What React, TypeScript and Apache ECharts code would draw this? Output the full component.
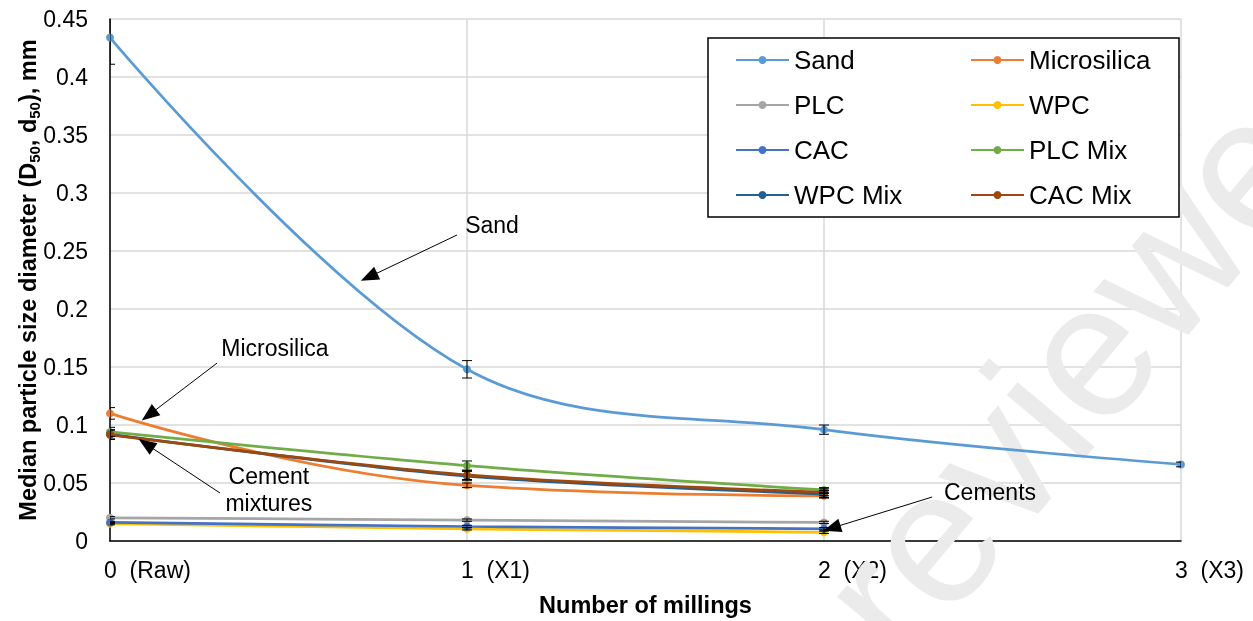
import React, { useEffect, useRef } from 'react';
import * as echarts from 'echarts';

const xLabels = ['0  (Raw)', '1  (X1)', '2  (X2)', '3  (X3)'];
const millings = [0, 1, 2, 3];

const seriesNames = ['Sand', 'Microsilica', 'PLC', 'WPC', 'CAC', 'PLC Mix', 'WPC Mix', 'CAC Mix'];
const seriesColors = ['#5B9BD5', '#ED7D31', '#A5A5A5', '#FFC000', '#4472C4', '#70AD47', '#255E91', '#9E480E'];

const sand = [0.434, 0.148, 0.096, 0.066];
const microsilica = [0.11, 0.048, 0.039];
const plc = [0.02, 0.018, 0.016];
const wpc = [0.015, 0.0105, 0.0075];
const cac = [0.016, 0.0125, 0.0105];
const plcMix = [0.094, 0.065, 0.044];
const wpcMix = [0.092, 0.056, 0.0405];
const cacMix = [0.0915, 0.057, 0.042];

const sandErr = [0.023, 0.0075, 0.004, 0.002];
const microsilicaErr = [0.005, 0.002, 0.002];
const plcErr = [0.001, 0.001, 0.001];
const wpcErr = [0.001, 0.001, 0.001];
const cacErr = [0.001, 0.001, 0.001];
const plcMixErr = [0.004, 0.004, 0.002];
const wpcMixErr = [0.004, 0.004, 0.003];
const cacMixErr = [0.004, 0.004, 0.003];

const allValues = [sand, microsilica, plc, wpc, cac, plcMix, wpcMix, cacMix];
const allErrors = [sandErr, microsilicaErr, plcErr, wpcErr, cacErr, plcMixErr, wpcMixErr, cacMixErr];
const smoothness = [0.35, 0.45, 0.3, 0.3, 0.3, 0.3, 0.3, 0.3];

// annotation labels, their anchor (data units) and arrows [fromX, fromY, toX, toY] in data units
const annotationLabels = ['Sand', 'Microsilica', 'Cement\nmixtures', 'Cements'];
const annotationText = [
  [1.07, 0.2724],
  [0.462, 0.1664],
  [0.445, 0.044],
  [2.465, 0.0422],
];
const annotationArrows = [
  [0.972, 0.2638, 0.7255, 0.2276],
  [0.3, 0.1534, 0.109, 0.1086],
  [0.308, 0.0414, 0.101, 0.0836],
  [2.303, 0.0379, 2.022, 0.0112],
];

const FONT = 'Arial, "Liberation Sans", sans-serif';

export default function App() {
  const ref = useRef<HTMLDivElement>(null);
  useEffect(() => {
    if (!ref.current) return;
    const chart = echarts.init(ref.current, undefined, { renderer: 'svg' });

    const lineSeries = seriesNames.map((name, i) => ({
      name,
      type: 'line',
      data: allValues[i].map((v, j) => [millings[j], v]),
      smooth: smoothness[i],
      symbol: 'circle',
      symbolSize: 8,
      lineStyle: { width: 2.75, color: seriesColors[i] },
      itemStyle: { color: seriesColors[i] },
      z: 2 + i * 0.01,
    }));

    const errData: number[][] = [];
    allValues.forEach((vals, i) => {
      vals.forEach((v, j) => {
        errData.push([millings[j], v - allErrors[i][j], v + allErrors[i][j]]);
      });
    });

    const errSeries = {
      type: 'custom',
      name: 'errors',
      clip: true,
      z: 3,
      silent: true,
      data: errData,
      encode: { x: 0, y: [1, 2] },
      renderItem: (_params: any, api: any) => {
        const x = api.value(0);
        const top = api.coord([x, api.value(2)]);
        const bot = api.coord([x, api.value(1)]);
        const w = 5;
        const st = { stroke: '#000', lineWidth: 1 };
        return {
          type: 'group',
          children: [
            { type: 'line', shape: { x1: top[0], y1: top[1], x2: bot[0], y2: bot[1] }, style: st },
            { type: 'line', shape: { x1: top[0] - w, y1: top[1], x2: top[0] + w, y2: top[1] }, style: st },
            { type: 'line', shape: { x1: bot[0] - w, y1: bot[1], x2: bot[0] + w, y2: bot[1] }, style: st },
          ],
        };
      },
    };

    const annoSeries = {
      type: 'line',
      name: 'annotations',
      data: [],
      silent: true,
      z: 6,
      markLine: {
        silent: true,
        animation: false,
        symbol: ['none', 'triangle'],
        symbolSize: [14, 18],
        label: { show: false },
        lineStyle: { color: '#000', width: 1, type: 'solid' },
        data: annotationArrows.map((a) => [
          { coord: [a[0], a[1]] },
          { coord: [a[2], a[3]] },
        ]),
      },
      markPoint: {
        silent: true,
        animation: false,
        symbol: 'circle',
        symbolSize: 0,
        data: annotationLabels.map((lab, i) => ({
          coord: annotationText[i],
          label: {
            show: true,
            position: 'inside',
            formatter: lab,
            color: '#000',
            fontSize: 23,
            lineHeight: 27,
            fontFamily: FONT,
            align: 'center',
          },
        })),
      },
    };

    const legendText = { fontSize: 26, fontFamily: FONT, color: '#000', lineHeight: 26 };

    chart.setOption({
      animation: false,
      grid: { left: 110, right: 72, top: 19, bottom: 80, containLabel: false, outerBoundsMode: 'none' },
      xAxis: {
        type: 'value',
        min: 0,
        max: 3,
        interval: 1,
        name: 'Number of millings',
        nameLocation: 'middle',
        nameGap: 52,
        nameMoveOverlap: false,
        nameTextStyle: { fontSize: 23.5, fontWeight: 'bold', color: '#000', fontFamily: FONT },
        axisLine: { lineStyle: { color: '#000', width: 1.5 } },
        axisTick: { show: false },
        splitLine: { show: true, lineStyle: { color: '#D9D9D9', width: 1.5 } },
        axisLabel: {
          formatter: (v: number) => xLabels[Math.round(v)] ?? '',
          fontSize: 23,
          color: '#000',
          fontFamily: FONT,
          align: 'left',
          padding: [0, 0, 0, -6],
          margin: 17,
        },
      },
      yAxis: {
        type: 'value',
        min: 0,
        max: 0.45,
        interval: 0.05,
        name: 'Median particle size diameter (D{s|50}, d{s|50}), mm',
        nameLocation: 'middle',
        nameGap: 68,
        nameMoveOverlap: false,
        nameTextStyle: {
          fontSize: 23.5,
          fontWeight: 'bold',
          color: '#000',
          fontFamily: FONT,
          lineHeight: 28,
          rich: {
            s: { fontSize: 15, fontWeight: 'bold', color: '#000', fontFamily: FONT, verticalAlign: 'bottom', lineHeight: 15 },
          },
        },
        axisLine: { show: true, lineStyle: { color: '#000', width: 1.5 } },
        axisTick: { show: false },
        splitLine: { show: true, lineStyle: { color: '#D9D9D9', width: 1.5 } },
        axisLabel: {
          fontSize: 23,
          color: '#000',
          fontFamily: FONT,
          margin: 22,
          formatter: (v: number) => String(Math.round(v * 100) / 100),
        },
      },
      legend: [
        {
          left: 730,
          top: 42,
          orient: 'vertical',
          itemGap: 19,
          itemWidth: 53,
          itemHeight: 10,
          textStyle: legendText,
          data: ['Sand', 'PLC', 'CAC', 'WPC Mix'],
          selectedMode: false,
        },
        {
          left: 965,
          top: 42,
          orient: 'vertical',
          itemGap: 19,
          itemWidth: 53,
          itemHeight: 10,
          textStyle: legendText,
          data: ['Microsilica', 'WPC', 'PLC Mix', 'CAC Mix'],
          selectedMode: false,
        },
      ],
      graphic: [
        {
          type: 'text',
          z: 1,
          silent: true,
          x: 928,
          y: 690,
          rotation: (50 * Math.PI) / 180,
          style: {
            text: 'reviewed',
            fontSize: 190,
            fontFamily: FONT,
            fill: '#EBEBEB',
            textVerticalAlign: 'bottom',
          },
        },
        {
          type: 'rect',
          z: 3,
          silent: true,
          shape: { x: 708, y: 38, width: 471, height: 179 },
          style: { fill: '#fff', stroke: '#000', lineWidth: 1.5 },
        },
      ],
      series: [...lineSeries, errSeries, annoSeries],
    });

    return () => chart.dispose();
  }, []);

  return <div ref={ref} style={{ position: 'fixed', left: 0, top: 0, width: 1253, height: 621 }} />;
}
